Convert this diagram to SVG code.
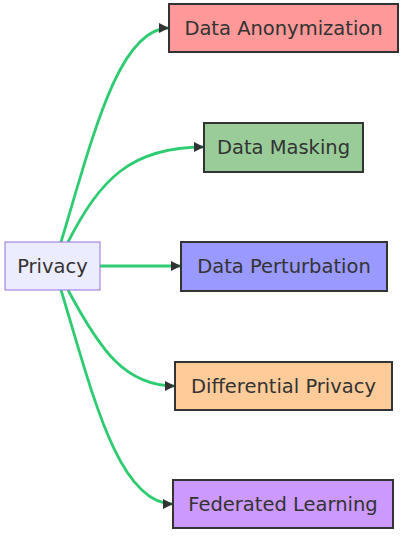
<svg xmlns="http://www.w3.org/2000/svg" width="406" height="540" viewBox="0 0 406 540">
<style>
.n rect{stroke:#333;stroke-width:2}
.n text{font-family:"DejaVu Sans",Verdana,sans-serif;font-size:19.5px;fill:#333;text-anchor:middle;dominant-baseline:central}
#connectors path{fill:none;stroke:#2ecc71;stroke-width:2.8;marker-end:url(#arr)}
</style>
<defs>
<marker id="arr" viewBox="0 0 10 10" refX="10" refY="5" markerWidth="10" markerHeight="10" markerUnits="userSpaceOnUse" orient="auto">
<path d="M0,0 L10,5 L0,10 z" fill="#333"/>
</marker>
</defs>
<rect width="406" height="540" fill="#fff"/>
<g id="connectors">
<path d="M61,242 C92,140 118,28 169,28"/>
<path d="M68,242 C100,180 130,147 204,147"/>
<path d="M100,266 L181,266"/>
<path d="M68,290 C100,350 125,386 175,386"/>
<path d="M61,290 C92,392 118,504 173,504"/>
</g>
<g id="privacy" class="n">
<rect x="5" y="242" width="95" height="48" fill="#ececff" style="stroke:#9370db;stroke-width:1"/>
<text x="52.5" y="266">Privacy</text>
</g>
<g id="anonymization" class="n">
<rect x="169" y="4" width="229" height="48" fill="#ff9999"/>
<text x="283.5" y="28">Data Anonymization</text>
</g>
<g id="masking" class="n">
<rect x="204" y="123" width="159" height="49" fill="#99cc99"/>
<text x="283.5" y="147.5">Data Masking</text>
</g>
<g id="perturbation" class="n">
<rect x="181" y="242" width="206" height="49" fill="#9999ff"/>
<text x="284" y="266.5">Data Perturbation</text>
</g>
<g id="differential" class="n">
<rect x="175" y="362" width="217" height="48" fill="#ffcc99"/>
<text x="283.5" y="386">Differential Privacy</text>
</g>
<g id="federated" class="n">
<rect x="173" y="480" width="220" height="48" fill="#cc99ff"/>
<text x="283" y="504">Federated Learning</text>
</g>
</svg>
